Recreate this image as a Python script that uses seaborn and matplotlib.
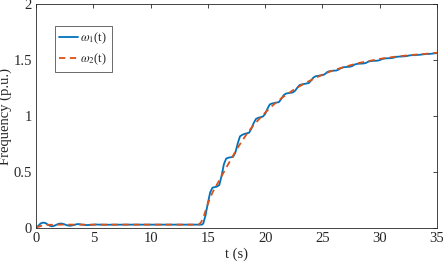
import matplotlib

matplotlib.use("Agg")

import matplotlib.pyplot as plt  # noqa: E402
import pandas as pd  # noqa: E402
import seaborn as sns  # noqa: E402

# omega_1(t): measured response, oscillating staircase
t1 = [0.0, 0.2, 0.4, 0.6, 0.8, 1.0, 1.2, 1.4, 1.6, 1.8, 2.0, 2.2, 2.4, 2.6, 2.8,
      3.0, 3.2, 3.4, 3.6, 3.8, 4.0, 4.4, 4.8, 5.2, 5.6, 6.0, 8.0, 10.0, 12.0, 14.0,
      14.5, 14.6, 14.8, 15.0, 15.2, 15.4, 15.6, 15.8, 16.0, 16.2, 16.4, 16.6, 16.8,
      17.0, 17.2, 17.4, 17.6, 17.8, 18.0, 18.2, 18.4, 18.6, 18.8, 19.0, 19.2, 19.4,
      19.6, 19.8, 20.0, 20.2, 20.4, 20.6, 20.8, 21.0, 21.2, 21.4, 21.6, 21.8, 22.0,
      22.2, 22.4, 22.6, 22.8, 23.0, 23.2, 23.4, 23.6, 23.8, 24.0, 24.2, 24.4, 24.6,
      24.8, 25.0, 25.2, 25.4, 25.6, 25.8, 26.0, 26.2, 26.4, 26.6, 26.8, 27.0, 27.2,
      27.4, 27.6, 27.8, 28.0, 28.2, 28.4, 28.6, 28.8, 29.0, 29.2, 29.4, 29.6, 29.8,
      30.0, 30.2, 30.4, 30.6, 30.8, 31.0, 31.2, 31.4, 31.6, 31.8, 32.0, 32.2, 32.4,
      32.6, 32.8, 33.0, 33.2, 33.4, 33.6, 33.8, 34.0, 34.2, 34.4, 34.6, 34.8, 35.0]
w1 = [0.0, 0.02, 0.04, 0.048, 0.045, 0.032, 0.02, 0.015, 0.02, 0.03, 0.038, 0.04,
      0.036, 0.028, 0.022, 0.02, 0.024, 0.03, 0.035, 0.034, 0.03, 0.026, 0.028,
      0.031, 0.03, 0.029, 0.03, 0.03, 0.03, 0.03,
      0.03, 0.041, 0.115, 0.223, 0.318, 0.36, 0.365, 0.37, 0.384, 0.468, 0.57, 0.62,
      0.628, 0.632, 0.635, 0.674, 0.753, 0.818, 0.832, 0.84, 0.845, 0.851, 0.888,
      0.937, 0.974, 0.984, 0.99, 0.995, 1.018, 1.065, 1.103, 1.112, 1.116, 1.12,
      1.124, 1.152, 1.184, 1.2, 1.204, 1.207, 1.21, 1.224, 1.252, 1.276, 1.282,
      1.286, 1.289, 1.294, 1.316, 1.342, 1.355, 1.359, 1.362, 1.364, 1.373, 1.391,
      1.4, 1.403, 1.405, 1.406, 1.414, 1.427, 1.435, 1.437, 1.439, 1.44, 1.446,
      1.459, 1.465, 1.467, 1.468, 1.469, 1.474, 1.485, 1.49, 1.492, 1.493, 1.494,
      1.499, 1.508, 1.513, 1.515, 1.516, 1.517, 1.52, 1.527, 1.53, 1.531, 1.532,
      1.533, 1.536, 1.541, 1.543, 1.544, 1.545, 1.546, 1.548, 1.551, 1.553, 1.554,
      1.555, 1.557, 1.56, 1.562]

# omega_2(t): smooth reference
t2 = [0.0, 0.5, 1.0, 2.0, 4.0, 14.2, 14.4, 14.6, 14.8, 15.0, 15.2, 15.4, 15.6, 15.8,
      16.0, 16.5, 17.0, 17.5, 18.0, 18.5, 19.0, 19.5, 20.0, 20.5, 21.0, 21.5, 22.0,
      22.5, 23.0, 23.5, 24.0, 24.5, 25.0, 25.5, 26.0, 26.5, 27.0, 27.5, 28.0, 29.0,
      30.0, 31.0, 32.0, 33.0, 34.0, 35.0]
w2 = [0.005, 0.02, 0.028, 0.03, 0.03, 0.03, 0.05, 0.09, 0.155, 0.215, 0.27, 0.315,
      0.355, 0.39, 0.425, 0.52, 0.61, 0.70, 0.78, 0.855, 0.92, 0.975, 1.03, 1.08,
      1.125, 1.165, 1.2, 1.235, 1.265, 1.295, 1.32, 1.345, 1.37, 1.39, 1.41, 1.425,
      1.44, 1.455, 1.47, 1.49, 1.51, 1.525, 1.537, 1.547, 1.555, 1.565]

x_ticks = [0, 5, 10, 15, 20, 25, 30, 35]
y_ticks = [0, 0.5, 1, 1.5, 2]
y_ticklabels = ["0", "0.5", "1", "1.5", "2"]

df1 = pd.DataFrame({"t": t1, "w": w1})
df2 = pd.DataFrame({"t": t2, "w": w2})

sns.set_style("white")
plt.rcParams["font.family"] = ["Liberation Serif", "DejaVu Serif"]
plt.rcParams["mathtext.fontset"] = "stix"

fig = plt.figure(figsize=(4.43, 2.64), dpi=100)
ax = fig.add_axes([0.0813, 0.1364, 0.9052, 0.8484])

sns.lineplot(data=df1, x="t", y="w", ax=ax, color="#0072BD", linewidth=1.3,
             label=r"$\omega_1$(t)")
sns.lineplot(data=df2, x="t", y="w", ax=ax, color="#D95319", linewidth=1.3,
             linestyle=(0, (3.5, 2.5)), label=r"$\omega_2$(t)")

ax.set_xlim(0, 35)
ax.set_ylim(0, 2)
ax.set_xticks(x_ticks)
ax.set_yticks(y_ticks)
ax.set_yticklabels(y_ticklabels)
ax.tick_params(direction="in", length=3, width=0.6, colors="#262626",
               labelsize=10.5, top=True, right=True, pad=3)
for s in ax.spines.values():
    s.set_color("#262626")
    s.set_linewidth(0.6)
ax.set_xlabel("t (s)", fontsize=10.5, labelpad=2)
ax.set_ylabel("Frequency (p.u.)", fontsize=10.5, labelpad=1)

leg = ax.legend(loc="upper left", bbox_to_anchor=(0.047, 0.9), fontsize=9,
                frameon=True, fancybox=False, handlelength=1.5, handletextpad=0.2,
                borderpad=0.35, labelspacing=0.45, borderaxespad=0)
leg.get_frame().set_edgecolor("#262626")
leg.get_frame().set_linewidth(0.6)

fig.savefig("out.png", dpi=100)
plt.close(fig)
